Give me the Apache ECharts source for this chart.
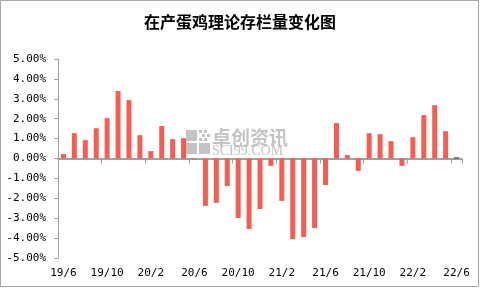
<!DOCTYPE html>
<html><head><meta charset="utf-8">
<script src="https://cdn.jsdelivr.net/npm/echarts@6/dist/echarts.min.js"></script>
<style>html,body{margin:0;padding:0;background:#fff}#c{width:480px;height:288px}</style>
</head><body><div id="c"></div>
<script>
var categories = ['19/6','19/7','19/8','19/9','19/10','19/11','19/12','20/1','20/2','20/3','20/4','20/5','20/6','20/7','20/8','20/9','20/10','20/11','20/12','21/1','21/2','21/3','21/4','21/5','21/6','21/7','21/8','21/9','21/10','21/11','21/12','22/1','22/2','22/3','22/4','22/5','22/6'];
var values = [0.22,1.27,0.92,1.52,2.03,3.39,2.93,1.17,0.37,1.63,0.97,1.02,-0.05,-2.38,-2.23,-1.38,-2.99,-3.54,-2.54,-0.37,-2.13,-4.05,-3.95,-3.49,-1.33,1.78,0.17,-0.62,1.27,1.22,0.87,-0.37,1.07,2.18,2.68,1.37,0.06];
var title = '在产蛋鸡理论存栏量变化图';
var chart = echarts.init(document.getElementById('c'), null, {renderer:'canvas'});
var lab = {fontFamily:'DejaVu Sans Mono', fontSize:11, color:'#000'};
var wm = 'rgba(185,185,185,0.85)';
function sq(x,y,w){return {type:'rect',z:100,shape:{x:x,y:y,width:w,height:w},style:{fill:wm}};}
chart.setOption({
  animation:false,
  title:{text:title,left:'center',top:9,textStyle:{fontFamily:'Noto Sans CJK SC',fontWeight:'bold',fontSize:16,color:'#000'}},
  grid:{left:58,right:18,top:59,bottom:30},
  xAxis:[{
    type:'category',data:categories,boundaryGap:true,
    axisLine:{onZero:true,lineStyle:{color:'#a0a0a0',width:2}},
    axisTick:{show:true,interval:3,length:5,lineStyle:{color:'#a0a0a0'}},
    axisLabel:{show:false},splitLine:{show:false}
  },{
    type:'category',data:categories,boundaryGap:true,position:'bottom',
    axisLine:{show:false,onZero:false},axisTick:{show:false},
    axisLabel:Object.assign({interval:3,margin:10},lab),splitLine:{show:false}
  }],
  yAxis:{type:'value',min:-5,max:5,interval:1,
    axisLine:{show:true,lineStyle:{color:'#a0a0a0'}},
    axisTick:{show:true,length:4,lineStyle:{color:'#a0a0a0'}},
    splitLine:{show:false},
    axisLabel:Object.assign({margin:12,formatter:function(v){return v.toFixed(2)+'%';}},lab)
  },
  series:[{type:'bar',data:values,xAxisIndex:0,barWidth:5,
    itemStyle:{color:function(p){return p.dataIndex===values.length-1?'#2f4a5a':'#f55d52';}}}],
  graphic:[
    {type:'rect',z:100,shape:{x:0.5,y:0.5,width:478,height:286},style:{fill:null,stroke:'#a6a6a6',lineWidth:1}},
    sq(186,130,11), sq(186,143,11), sq(199,143,11),
    sq(199,130,3), sq(204,130,3), sq(202,134,3), sq(207,134,3), sq(199,138,3), sq(204,138,3),
    {type:'text',z:100,x:212,y:128,style:{text:'卓创资讯',fontFamily:'Noto Sans CJK SC',fontWeight:'bold',fontSize:19,fill:wm,textVerticalAlign:'top'}},
    {type:'text',z:100,x:212,y:144,style:{text:'SCI99.COM',fontFamily:'Liberation Serif',fontSize:14,fill:wm,textVerticalAlign:'top'}}
  ]
});
</script></body></html>
